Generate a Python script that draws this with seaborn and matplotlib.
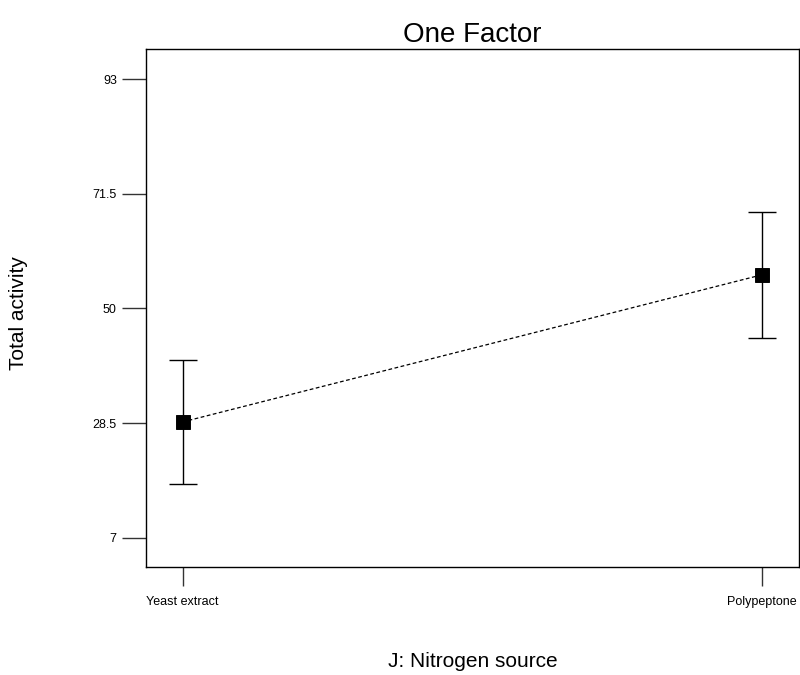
import matplotlib
matplotlib.use("Agg")
import matplotlib.pyplot as plt
import seaborn as sns
import pandas as pd

# Nitrogen source effect on total activity
categories = ["Yeast extract", "Polypeptone"]
means = [28.7, 56.3]
ci_low = [17.0, 44.5]
ci_high = [40.4, 68.1]
yticks = [7, 28.5, 50, 71.5, 93]

df = pd.DataFrame({"source": categories, "activity": means})

sns.set_theme(style="white")
plt.rcParams["font.family"] = ["Liberation Sans", "DejaVu Sans"]
plt.rcParams["text.color"] = "black"
plt.rcParams["axes.labelcolor"] = "black"

fig = plt.figure(figsize=(8, 6.75), dpi=100)
ax = fig.add_axes([0.1825, 0.1596, 0.81625, 0.7674])

# mean points joined by a dashed line
sns.pointplot(data=df, x="source", y="activity", order=categories,
              color="black", markers="s", linestyles="--", errorbar=None,
              markersize=10, linewidth=0.9, ax=ax)
for ln in ax.lines:
    ln.set_dashes((3, 2))
    ln.set_marker("s")

# confidence interval whiskers
xpos = list(range(len(categories)))
lower = [m - lo for m, lo in zip(means, ci_low)]
upper = [hi - m for m, hi in zip(means, ci_high)]
ax.errorbar(xpos, means, yerr=[lower, upper], fmt="none", ecolor="black",
            elinewidth=1.0, capsize=10, capthick=1.0, zorder=1)

ax.set_xlim(-0.063, 1.064)
ax.set_ylim(1.45, 98.6)
ax.set_yticks(yticks)
ax.set_yticklabels(["7", "28.5", "50", "71.5", "93"])
ax.set_xticks(xpos)
ax.set_xticklabels(categories)

ax.tick_params(axis="y", direction="out", length=17, width=1, color="#333333",
               labelsize=9, labelcolor="black", pad=4, left=True)
ax.tick_params(axis="x", direction="out", length=14, width=1, color="#333333",
               labelsize=9, labelcolor="black", pad=7, bottom=True)
for sp in ax.spines.values():
    sp.set_color("black")
    sp.set_linewidth(1.0)

ax.set_title("One Factor", fontsize=20, pad=5, color="black")
ax.set_xlabel("J: Nitrogen source", fontsize=15)
ax.set_ylabel("Total activity", fontsize=15)
ax.xaxis.set_label_coords(0.5, -0.163)
ax.yaxis.set_label_coords(-0.181, 0.49)

fig.savefig("out.png", dpi=100)
